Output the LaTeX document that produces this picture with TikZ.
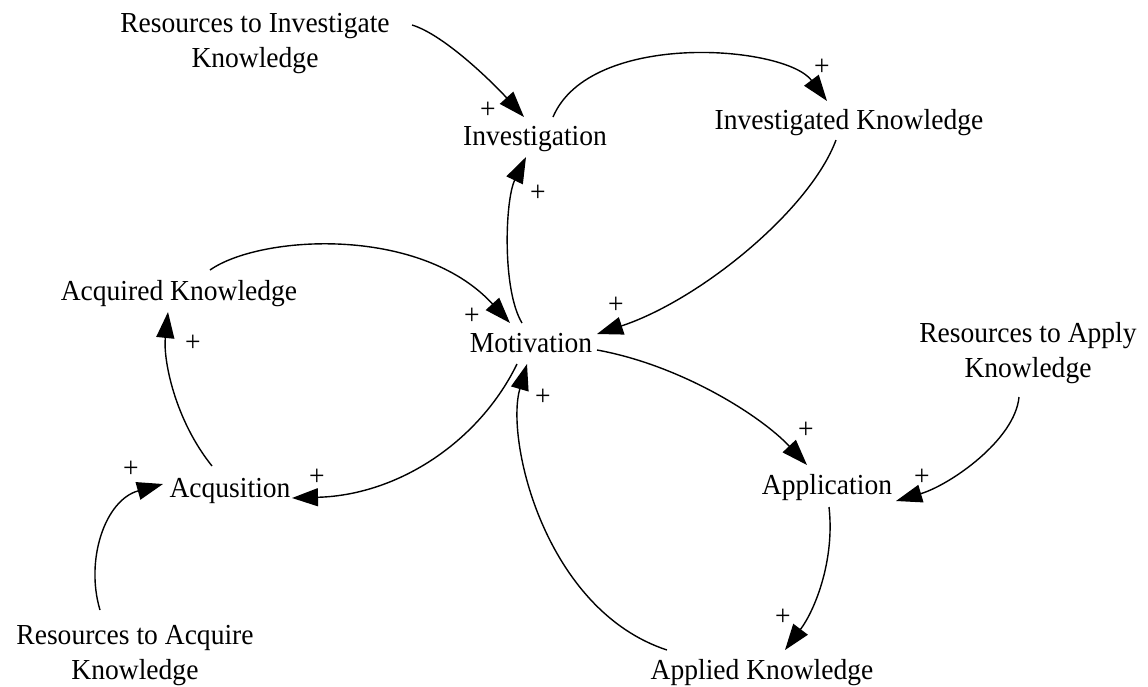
\documentclass[tikz,border=0pt]{standalone}
\usepackage{fontspec}
\setmainfont{Liberation Serif}[FakeStretch=0.95]
\usetikzlibrary{arrows.meta}
\begin{document}
\begin{tikzpicture}[x=1pt,y=-1pt,
  lbl/.style={font=\fontsize{29}{35}\selectfont, align=center, inner sep=0pt, outer sep=0pt},
  pm/.style={font=\fontsize{29}{29}\selectfont, inner sep=0pt},
  link/.style={line width=1.4pt, -{Triangle[length=26pt,width=18pt]}}]
\useasboundingbox (0,0) rectangle (1148,686);
\fill[white] (0,0) rectangle (1148,686);
% nodes
\node[lbl, anchor=south] (ri) at (255,74) {Resources to Investigate\\Knowledge};
\node[lbl, anchor=base] (inv) at (535,145) {Investigation};
\node[lbl, anchor=base] (ik) at (849,129) {Investigated Knowledge};
\node[lbl, anchor=base] (ak) at (179,300) {Acquired Knowledge};
\node[lbl, anchor=base] (mot) at (531,352) {Motivation};
\node[lbl, anchor=south] (ra) at (1028,384) {Resources to Apply\\Knowledge};
\node[lbl, anchor=base] (app) at (827,494) {Application};
\node[lbl, anchor=base] (acq) at (230,497) {Acqusition};
\node[lbl, anchor=south] (rq) at (135,686) {Resources to Acquire\\Knowledge};
\node[lbl, anchor=base] (apk) at (762,679) {Applied Knowledge};
% connectors
\draw[link] ([shift={(157,-49)}]ri.south) .. controls (445,35) and (495,85) .. ([shift={(-11,-28)}]inv.base);
\draw[link] ([shift={(18,-28)}]inv.base) .. controls (590,30) and (785,45) .. ([shift={(-22,-28)}]ik.base);
\draw[link] ([shift={(-13,11)}]ik.base) .. controls (810,210) and (700,300) .. ([shift={(66,-18)}]mot.base);
\draw[link] ([shift={(-9,-29)}]mot.base) .. controls (502,290) and (505,200) .. ([shift={(-9,12)}]inv.base);
\draw[link] ([shift={(31,-30)}]ak.base) .. controls (260,235) and (420,225) .. ([shift={(-21,-29)}]mot.base);
\draw[link] ([shift={(-14,12)}]mot.base) .. controls (480,440) and (400,495) .. ([shift={(62,1)}]acq.base);
\draw[link] ([shift={(-18,-31)}]acq.base) .. controls (175,420) and (163,360) .. ([shift={(-11,12)}]ak.base);
\draw[link] ([shift={(-35,-76)}]rq.south) .. controls (85,560) and (105,500) .. ([shift={(-67,-13)}]acq.base);
\draw[link] ([shift={(-95,-29)}]apk.base) .. controls (545,610) and (505,440) .. ([shift={(-4,12)}]mot.base);
\draw[link] ([shift={(66,-2)}]mot.base) .. controls (680,365) and (760,415) .. ([shift={(-20,-29)}]app.base);
\draw[link] ([shift={(-9,13)}]ra.south) .. controls (1015,440) and (950,485) .. ([shift={(69,7)}]app.base);
\draw[link] ([shift={(2,13)}]app.base) .. controls (835,560) and (815,610) .. ([shift={(23,-29)}]apk.base);
% polarity signs
\node[pm] (p1) at (488,110) {+};
\node[pm] (p2) at (822,67) {+};
\node[pm] (p3) at (616,305) {+};
\node[pm] (p4) at (538,193) {+};
\node[pm] (p5) at (472,316) {+};
\node[pm] (p6) at (317,477) {+};
\node[pm] (p7) at (193,343) {+};
\node[pm] (p8) at (131,469) {+};
\node[pm] (p9) at (543,397) {+};
\node[pm] (p10) at (806,430) {+};
\node[pm] (p11) at (922,477) {+};
\node[pm] (p12) at (783,617) {+};
\end{tikzpicture}
\end{document}
